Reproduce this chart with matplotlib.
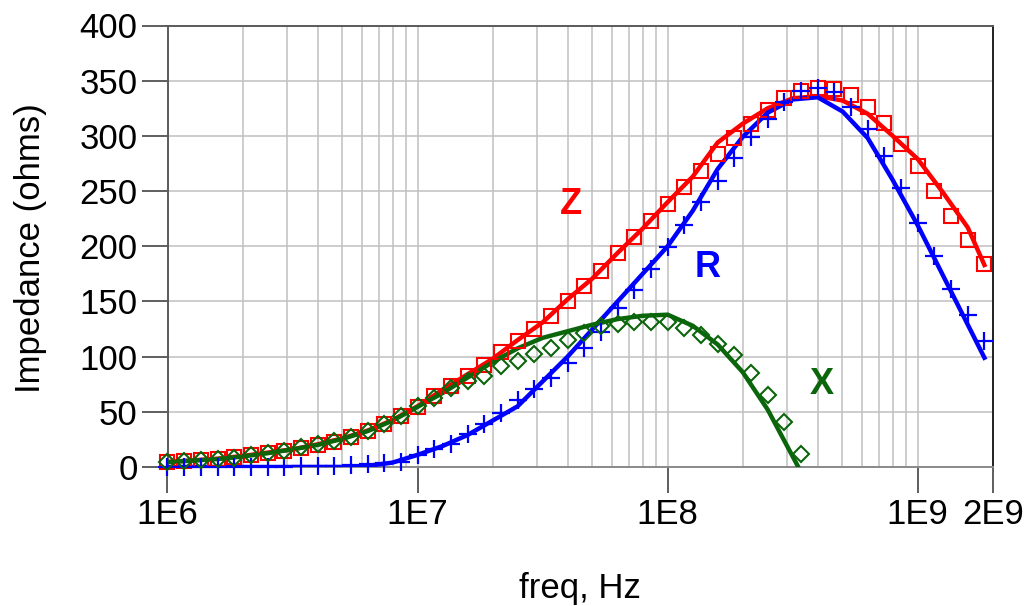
import matplotlib
matplotlib.use("Agg")
import matplotlib.pyplot as plt
from matplotlib.ticker import FixedLocator, NullFormatter

plt.rcParams['font.family'] = ['Liberation Sans', 'DejaVu Sans']

# ---- measured data (markers) ----
freq_meas = [1.0e6, 1.166e6, 1.359e6, 1.585e6, 1.848e6, 2.154e6, 2.512e6, 2.929e6, 3.415e6, 3.981e6,
             4.642e6, 5.412e6, 6.310e6, 7.356e6, 8.577e6,
             1.0e7, 1.166e7, 1.359e7, 1.585e7, 1.848e7, 2.154e7, 2.512e7, 2.929e7, 3.415e7, 3.981e7,
             4.642e7, 5.412e7, 6.310e7, 7.356e7, 8.577e7,
             1.0e8, 1.166e8, 1.359e8, 1.585e8, 1.848e8, 2.154e8, 2.512e8, 2.929e8, 3.415e8, 3.981e8,
             4.642e8, 5.412e8, 6.310e8, 7.356e8, 8.577e8,
             1.0e9, 1.166e9, 1.359e9, 1.585e9, 1.848e9]

z_meas = [4.8, 5.5, 6.4, 7.3, 8.8, 10.9, 13.0, 14.8, 17.0, 20.0,
          23.0, 27.6, 33.0, 39.0, 46.4, 54.8, 63.9, 73.6, 82.7, 92.7,
          103.9, 113.9, 125.2, 137.0, 150.0, 164.0, 177.5, 193.6, 208.8, 223.0,
          238.2, 253.4, 268.5, 283.6, 297.9, 310.5, 323.0, 334.0, 340.3, 343.4,
          342.1, 337.3, 326.1, 311.5, 292.7, 272.4, 250.5, 227.8, 205.5, 184.2]

r_meas = [0.3, 0.3, 0.3, 0.3, 0.3, 0.3, 0.3, 0.4, 0.8, 1.0,
          1.2, 1.8, 2.6, 3.3, 4.5, 10.5, 16.5, 21.0, 30.0, 39.0,
          48.5, 60.5, 70.5, 80.5, 94.0, 107.5, 122.0, 144.0, 160.5, 179.5,
          199.5, 219.0, 239.7, 259.4, 279.7, 298.8, 315.7, 330.6, 340.5, 343.0,
          339.7, 326.0, 306.0, 282.0, 252.5, 221.5, 191.2, 161.5, 137.3, 113.9]

x_meas = [4.5, 5.3, 6.2, 7.2, 8.6, 10.5, 12.5, 14.5, 18.0, 20.6,
          23.6, 27.6, 32.7, 39.0, 46.2, 55.5, 62.4, 71.5, 77.6, 82.7,
          91.2, 95.7, 102.7, 107.9, 115.5, 121.5, 128.0, 130.0, 131.5, 131.8,
          131.0, 125.5, 120.0, 111.8, 101.8, 85.2, 65.5, 41.2, 11.5]

# ---- simulated data (lines) ----
freq_sim = [1.0e6, 1.259e6, 1.585e6, 1.995e6, 2.512e6, 3.162e6, 3.981e6, 5.012e6, 6.310e6, 7.943e6,
            1.0e7, 1.259e7, 1.585e7, 1.995e7, 2.512e7, 3.162e7, 3.981e7, 5.012e7, 6.310e7, 7.943e7,
            1.0e8, 1.259e8, 1.585e8, 1.995e8, 2.512e8, 3.162e8, 3.981e8, 5.012e8, 6.310e8, 7.943e8,
            1.0e9, 1.259e9, 1.585e9, 1.848e9]

z_sim = [4.5, 6.0, 7.5, 10.0, 13.0, 16.0, 20.5, 26.0, 33.0, 42.5,
         55.0, 70.0, 84.0, 98.0, 115.0, 131.0, 152.0, 171.0, 194.0, 216.0,
         240.0, 263.0, 294.0, 311.0, 325.0, 334.0, 336.0, 332.0, 320.0, 300.0,
         279.0, 249.0, 217.0, 183.0]

r_sim = [0.0, 0.0, 0.0, 0.0, 0.0, 0.0, 0.0, 0.0, 1.0, 4.0,
         11.0, 19.0, 29.0, 42.0, 55.0, 77.5, 100.0, 125.0, 150.0, 175.0,
         200.0, 232.0, 270.0, 299.0, 321.0, 333.0, 335.0, 322.0, 298.0, 260.0,
         219.0, 174.0, 129.0, 99.0]

freq_x_sim = [1.0e6, 1.259e6, 1.585e6, 1.995e6, 2.512e6, 3.162e6, 3.981e6, 5.012e6, 6.310e6, 7.943e6,
              1.0e7, 1.259e7, 1.585e7, 1.995e7, 2.512e7, 3.162e7, 3.981e7, 5.012e7, 6.310e7, 7.943e7,
              1.0e8, 1.259e8, 1.585e8, 1.995e8, 2.512e8, 3.33e8]
x_sim = [4.5, 5.8, 7.2, 9.5, 12.5, 16.0, 20.0, 25.5, 32.5, 42.0,
         54.5, 67.0, 81.0, 95.0, 107.5, 117.0, 123.0, 129.0, 134.0, 137.0,
         138.0, 128.0, 111.0, 86.0, 52.0, 0.0]

xtick_vals = [1e6, 1e7, 1e8, 1e9, 2e9]
xtick_labels = ["1E6", "1E7", "1E8", "1E9", "2E9"]
ytick_vals = [0, 50, 100, 150, 200, 250, 300, 350, 400]

RED = '#ff0000'
BLUE = '#0000ff'
GREEN = '#0b650b'

W, H = 1029, 606
fig = plt.figure(figsize=(W / 100, H / 100), dpi=100)
L, R_, T, B = 167.5, 993, 25.5, 467
ax = fig.add_axes([L / W, 1 - B / H, (R_ - L) / W, (B - T) / H])

ax.set_xscale('log')
ax.set_xlim(1e6, 2e9)
ax.set_ylim(0, 400)

# grid
minor = []
for dec in [1e6, 1e7, 1e8, 1e9]:
    for m in range(2, 10):
        v = dec * m
        if v < 2e9:
            minor.append(v)
ax.xaxis.set_minor_locator(FixedLocator(minor))
ax.xaxis.set_minor_formatter(NullFormatter())
ax.set_xticks(xtick_vals)
ax.set_xticklabels(xtick_labels)
ax.set_yticks(ytick_vals)
ax.grid(which='both', axis='x', color='#c0c0c0', lw=1.1)
ax.grid(which='major', axis='y', color='#c0c0c0', lw=1.1)
ax.set_axisbelow(True)

ax.tick_params(axis='both', which='major', direction='out', length=18.5, width=1.1,
               color='#333333', labelsize=25, labelcolor='black')
ax.tick_params(axis='x', which='major', pad=4)
ax.tick_params(axis='y', which='major', pad=3)
ax.tick_params(axis='x', which='minor', length=0)

for side, col in [('left', '#5a5a5a'), ('top', '#5a5a5a'), ('right', '#222222'), ('bottom', '#8a8a8a')]:
    ax.spines[side].set_color(col)
    ax.spines[side].set_linewidth(1.4)

# lines
ax.plot(freq_sim, z_sim, color=RED, lw=3.2, zorder=3)
ax.plot(freq_sim, r_sim, color=BLUE, lw=3.2, zorder=3)
ax.plot(freq_x_sim, x_sim, color=GREEN, lw=3.2, zorder=3)

# markers
ax.plot(freq_meas, z_meas, ls='none', marker='s', ms=10.5, mfc='none', mec=RED, mew=1.5,
        clip_on=False, zorder=4)
ax.plot(freq_meas, r_meas, ls='none', marker='+', ms=12.5, mec=BLUE, mew=1.6,
        clip_on=False, zorder=4)
ax.plot(freq_meas[:len(x_meas)], x_meas, ls='none', marker='D', ms=8.5, mfc='none', mec=GREEN,
        mew=1.5, clip_on=False, zorder=4)

# curve labels
ax.text(4.1e7, 238, 'Z', color=RED, fontsize=26, fontweight='bold', ha='center', va='center')
ax.text(1.45e8, 181, 'R', color=BLUE, fontsize=26, fontweight='bold', ha='center', va='center')
ax.text(4.12e8, 74.5, 'X', color=GREEN, fontsize=26, fontweight='bold', ha='center', va='center')

# axis labels
fig.text(31 / W, 1 - 248.5 / H, 'Impedance (ohms)', rotation=90, fontsize=25,
         ha='center', va='center')
fig.text(580 / W, 1 - 598 / H, 'freq, Hz', fontsize=25, ha='center', va='baseline')

fig.savefig('out.png', dpi=100)
